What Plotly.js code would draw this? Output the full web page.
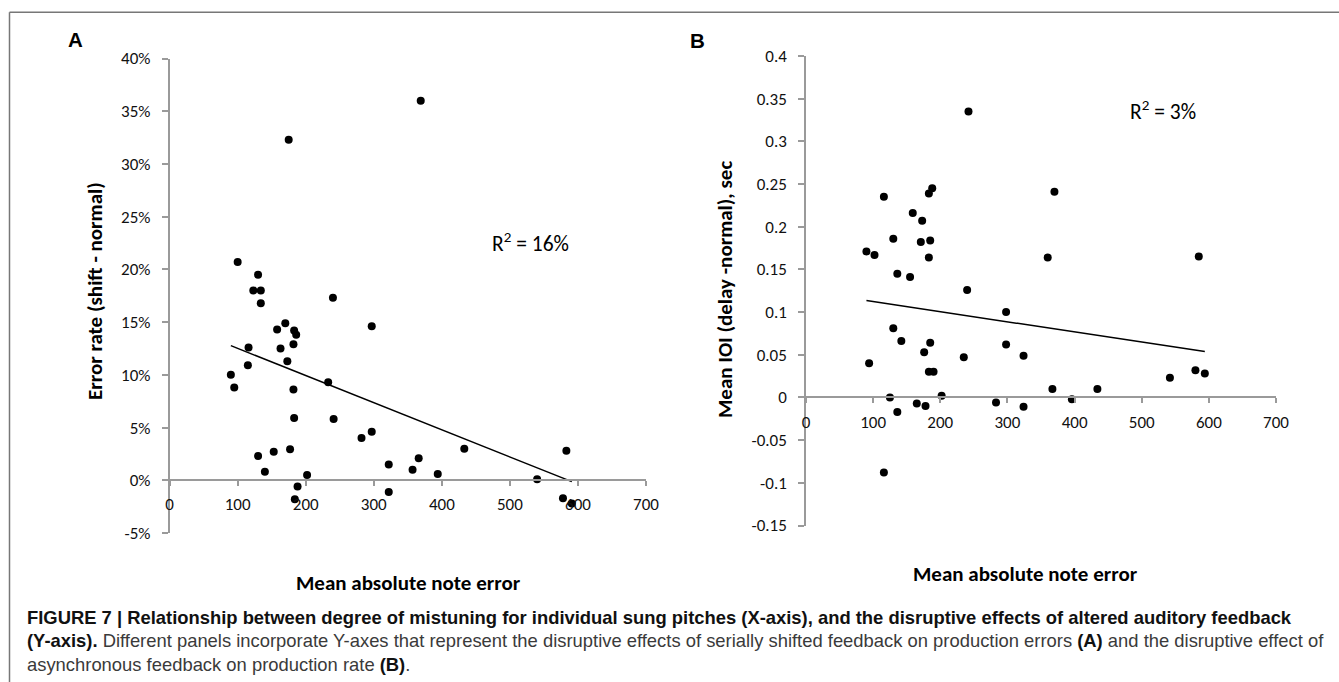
<!DOCTYPE html>
<html>
<head>
<meta charset="utf-8">
<script src="https://cdn.plot.ly/plotly-3.0.1.min.js"></script>
<style>
  html, body { margin: 0; padding: 0; background: #fff; }
  #chart { width: 1339px; height: 682px; }
</style>
</head>
<body>
<div id="chart"></div>
<script>
// ---------- Data ----------
// Panel A: mean absolute note error vs error rate (shift - normal), in %
const noteErrorA = [369,175,100,130,123,134,240,134,170,297,158,183,186,182,116,163,173,115,90,95,233,182,183,241,282,297,177,153,130,140,202,188,184,322,322,357,366,394,433,540,583,578,591];
const errorRateA = [36.0,32.3,20.7,19.5,18.0,18.0,17.3,16.8,14.9,14.6,14.3,14.2,13.8,12.9,12.6,12.5,11.3,10.9,10.0,8.8,9.3,8.6,5.9,5.8,4.0,4.6,2.95,2.7,2.3,0.8,0.5,-0.6,-1.8,1.5,-1.1,1.0,2.1,0.6,3.0,0.1,2.8,-1.7,-2.2];

// Panel B: mean absolute note error vs mean IOI (delay - normal), sec
const noteErrorB = [242,116,188,183,370,159,173,130,171,185,90,102,183,360,585,136,155,240,298,130,142,185,298,176,235,324,94,183,190,580,594,542,367,434,202,125,396,165,283,178,324,136,116];
const meanIOIB = [0.335,0.235,0.245,0.239,0.241,0.216,0.207,0.186,0.182,0.184,0.171,0.167,0.164,0.164,0.165,0.145,0.141,0.126,0.100,0.081,0.066,0.064,0.062,0.053,0.047,0.049,0.040,0.030,0.030,0.032,0.028,0.023,0.010,0.010,0.002,0.000,-0.002,-0.007,-0.006,-0.010,-0.011,-0.017,-0.088];

// Tick labels
const xTickVals = [0,100,200,300,400,500,600,700];
const xTickText = ['0','100','200','300','400','500','600','700'];
const yTickValsA = [-5,0,5,10,15,20,25,30,35,40];
const yTickTextA = ['-5%','0%','5%','10%','15%','20%','25%','30%','35%','40%'];
const yTickValsB = [-0.15,-0.1,-0.05,0,0.05,0.1,0.15,0.2,0.25,0.3,0.35,0.4];
const yTickTextB = ['-0.15','-0.1','-0.05','0','0.05','0.1','0.15','0.2','0.25','0.3','0.35','0.4'];

// Texts
const panelLabels = ['A','B'];
const r2Labels = ['R<sup>2</sup> = 16%','R<sup>2</sup> = 3%'];
const xTitle = 'Mean absolute note error';
const yTitleA = 'Error rate (shift - normal)';
const yTitleB = 'Mean IOI (delay -normal), sec';
const B = s => '<span style="color:#111"><b>' + s + '</b></span>';
const captionLines = [
  B('FIGURE 7 | Relationship between degree of mistuning for individual sung pitches (X-axis), and the disruptive effects of altered auditory feedback'),
  B('(Y-axis).') + ' Different panels incorporate Y-axes that represent the disruptive effects of serially shifted feedback on production errors ' + B('(A)') + ' and the disruptive effect of',
  'asynchronous feedback on production rate ' + B('(B)') + '.'
];

// ---------- Helpers ----------
function linFit(x, y) {
  const n = x.length;
  let sx = 0, sy = 0, sxx = 0, sxy = 0;
  for (let i = 0; i < n; i++) { sx += x[i]; sy += y[i]; sxx += x[i]*x[i]; sxy += x[i]*y[i]; }
  const slope = (n*sxy - sx*sy) / (n*sxx - sx*sx);
  const intercept = (sy - slope*sx) / n;
  const xs = [Math.min(...x), Math.max(...x)];
  return { x: xs, y: xs.map(v => intercept + slope*v) };
}

const W = 1339, H = 682;
const px = v => v / W;          // pixel -> paper x
const py = v => 1 - v / H;      // pixel -> paper y

const chartFont = 'Carlito, Lato, "Open Sans", sans-serif';
const axisGrey = '#9a9a9a';

const domXA = [px(169.6), px(646)], domYA = [py(533), py(58.5)];
const domXB = [px(806), px(1276)], domYB = [py(525.5), py(56)];
const rangeYA = [-5, 40], rangeYB = [-0.15, 0.4];
function zeroPos(dom, rng) { return dom[0] + (0 - rng[0]) / (rng[1] - rng[0]) * (dom[1] - dom[0]); }

const fitA = linFit(noteErrorA, errorRateA);
const fitB = linFit(noteErrorB, meanIOIB);

const markerStyle = { color: '#000', size: 8 };
const traces = [
  { x: noteErrorA, y: errorRateA, type: 'scatter', mode: 'markers', marker: markerStyle, xaxis: 'x', yaxis: 'y', hoverinfo: 'x+y' },
  { x: fitA.x, y: fitA.y, type: 'scatter', mode: 'lines', line: { color: '#000', width: 1.5 }, xaxis: 'x', yaxis: 'y', hoverinfo: 'skip' },
  { x: noteErrorB, y: meanIOIB, type: 'scatter', mode: 'markers', marker: markerStyle, xaxis: 'x2', yaxis: 'y2', hoverinfo: 'x+y' },
  { x: fitB.x, y: fitB.y, type: 'scatter', mode: 'lines', line: { color: '#000', width: 1.5 }, xaxis: 'x2', yaxis: 'y2', hoverinfo: 'skip' }
];

const tickFont = { family: chartFont, size: 17, color: '#111' };
function xAxis(dom, pos, standoff) {
  return {
    domain: dom, range: [0, 700], anchor: 'free', position: pos,
    tickmode: 'array', tickvals: xTickVals, ticktext: xTickText,
    showline: true, linecolor: axisGrey, linewidth: 1.5,
    ticks: 'outside', ticklen: 5, tickwidth: 1.5, tickcolor: axisGrey,
    showgrid: false, zeroline: false, tickfont: tickFont, ticklabelstandoff: standoff, fixedrange: true
  };
}
function yAxis(dom, rng, vals, text, anchor) {
  return {
    domain: dom, range: rng, anchor: anchor,
    tickmode: 'array', tickvals: vals, ticktext: text,
    showline: true, linecolor: axisGrey, linewidth: 1.5,
    ticks: 'outside', ticklen: 6, tickwidth: 1.5, tickcolor: axisGrey,
    showgrid: false, zeroline: true, zerolinecolor: axisGrey, zerolinewidth: 1.5,
    tickfont: tickFont, ticklabelstandoff: 8, fixedrange: true
  };
}

const titleFont = { family: chartFont, size: 21, color: '#000' };
const labelFont = { family: 'Liberation Sans, Arial, sans-serif', size: 20.5, color: '#000' };
const r2Font = { family: chartFont, size: 21.5, color: '#000' };
function note(text, xPix, yPix, font, angle) {
  return { text: text, x: px(xPix), y: py(yPix), xref: 'paper', yref: 'paper', xanchor: 'center', yanchor: 'middle',
    showarrow: false, textangle: angle || 0, font: font };
}
const annotations = [
  note('<b>' + panelLabels[0] + '</b>', 75, 40, labelFont),
  note('<b>' + panelLabels[1] + '</b>', 697, 41, labelFont),
  note(r2Labels[0], 530, 242, r2Font),
  note(r2Labels[1], 1163, 111, r2Font),
  note('<b>' + xTitle + '</b>', 408, 583, titleFont),
  note('<b>' + xTitle + '</b>', 1025, 574, titleFont),
  note('<b>' + yTitleA + '</b>', 95, 291, titleFont, -90),
  note('<b>' + yTitleB + '</b>', 725, 290, titleFont, -90)
];
const capY = [617, 640.5, 664];
captionLines.forEach((t, i) => {
  annotations.push({ text: t, x: px(25), y: py(capY[i]), xref: 'paper', yref: 'paper', xanchor: 'left', yanchor: 'middle', showarrow: false, align: 'left',
    font: { family: 'Liberation Sans, Arial, Helvetica, sans-serif', size: 18.4, color: '#3a3a3a' } });
});

const layout = {
  width: W, height: H,
  margin: { l: 0, r: 0, t: 0, b: 0 },
  paper_bgcolor: '#fff', plot_bgcolor: 'rgba(0,0,0,0)',
  showlegend: false,
  xaxis: xAxis(domXA, zeroPos(domYA, rangeYA), 4),
  yaxis: yAxis(domYA, rangeYA, yTickValsA, yTickTextA, 'x'),
  xaxis2: xAxis(domXB, zeroPos(domYB, rangeYB), 4),
  yaxis2: yAxis(domYB, rangeYB, yTickValsB, yTickTextB, 'x2'),
  annotations: annotations,
  shapes: [
    { type: 'line', xref: 'paper', yref: 'paper', x0: px(9.5), x1: 1, y0: py(12.3), y1: py(12.3), line: { color: '#777', width: 1.5 } },
    { type: 'line', xref: 'paper', yref: 'paper', x0: px(9.5), x1: px(9.5), y0: py(12.3), y1: 0, line: { color: '#777', width: 1.5 } }
  ]
};

Plotly.newPlot('chart', traces, layout, { displayModeBar: false });
</script>
</body>
</html>
